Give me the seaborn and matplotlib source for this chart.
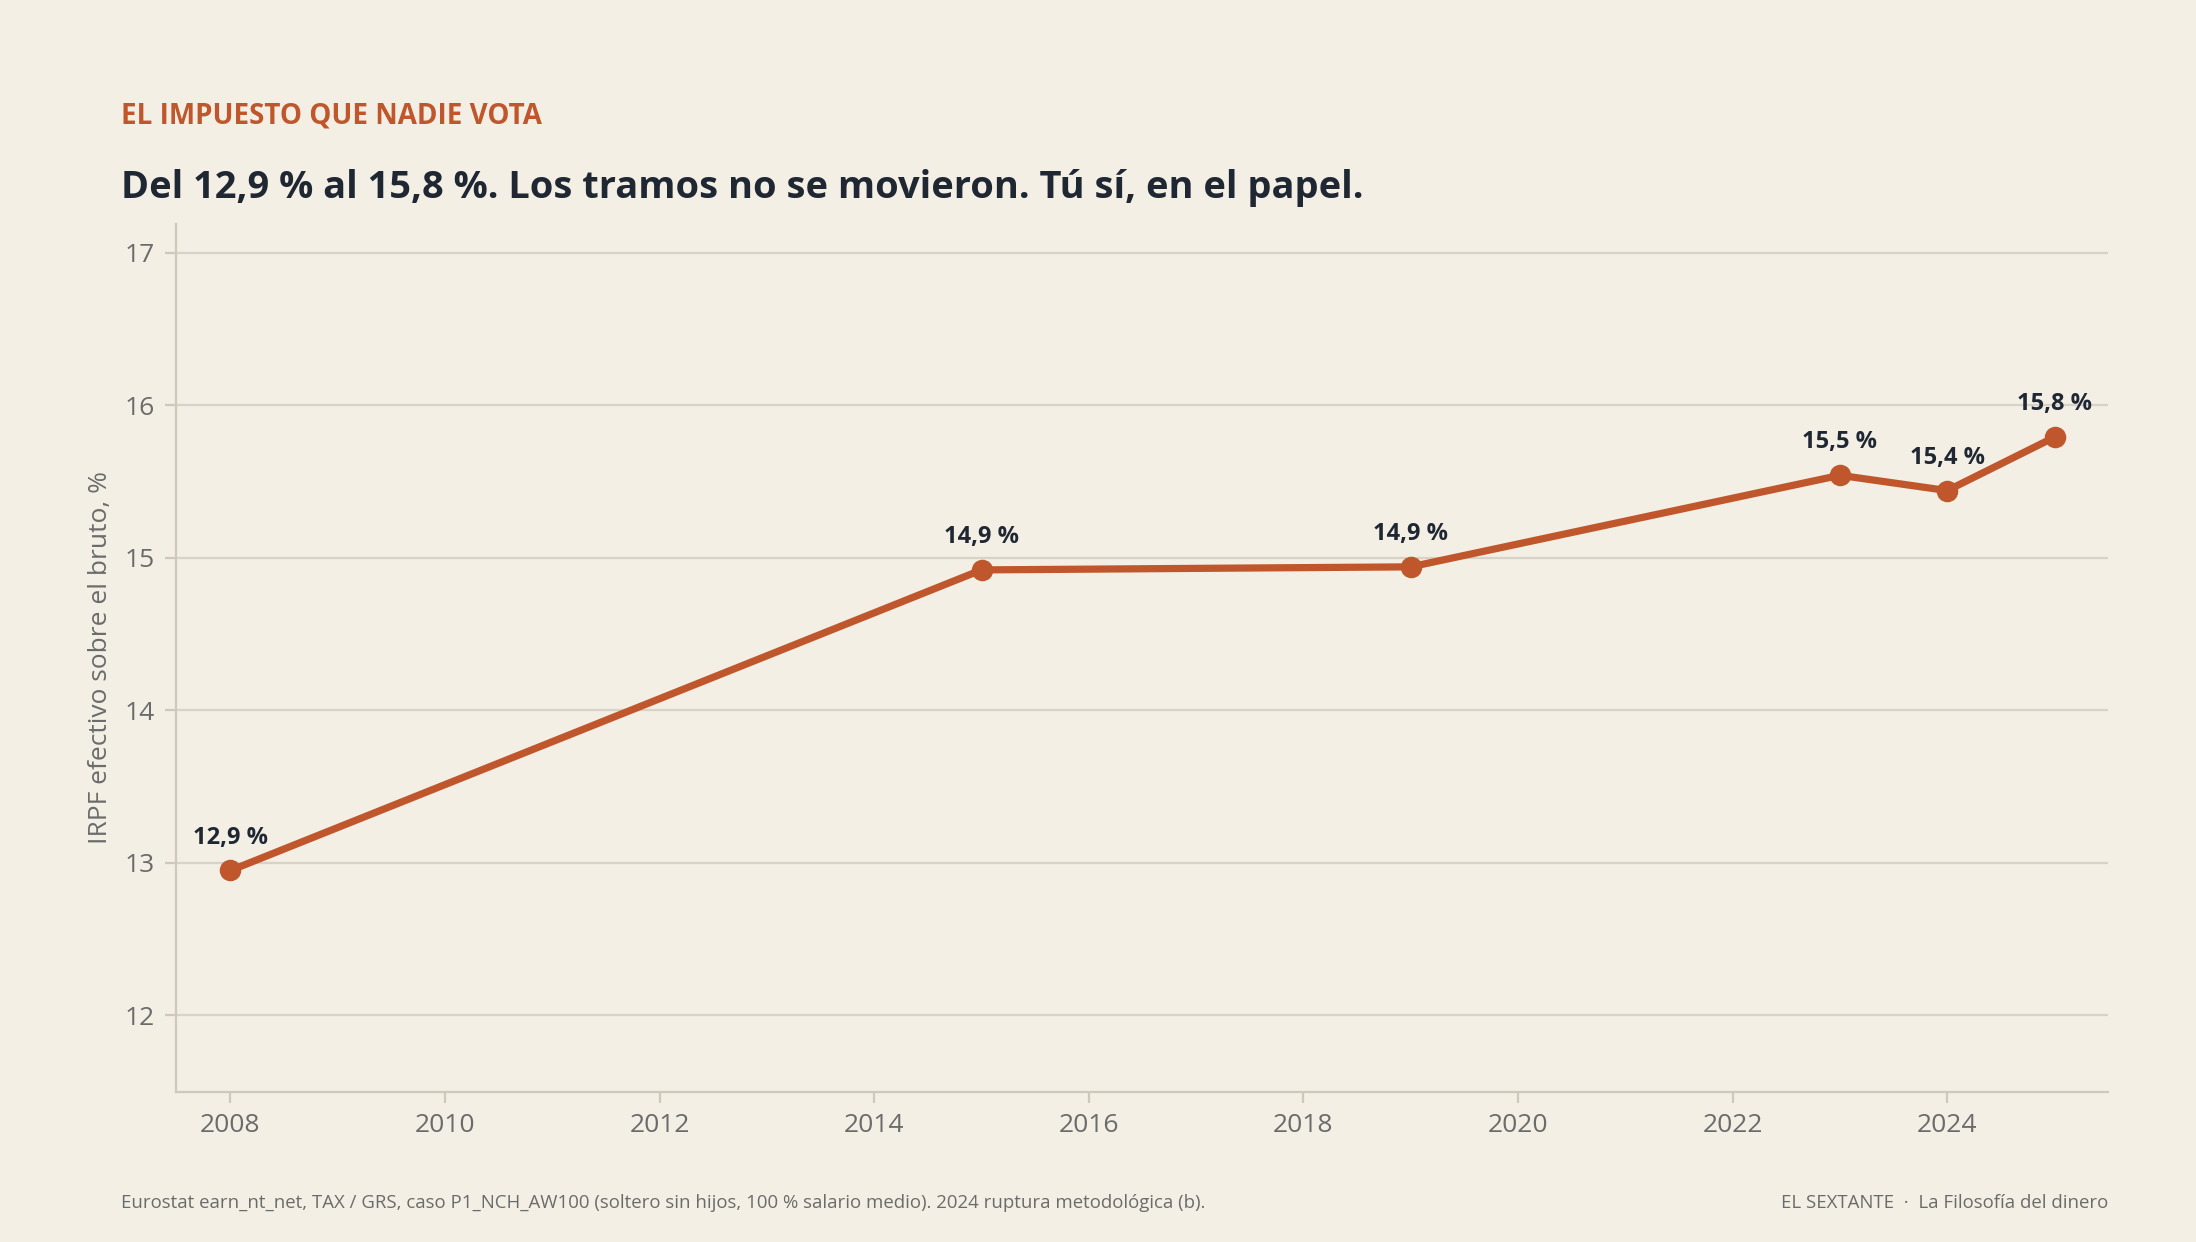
import matplotlib
matplotlib.use("Agg")
import matplotlib.pyplot as plt
import seaborn as sns
import pandas as pd

# ------------------------------------------------------------
# Data
# ------------------------------------------------------------
years = [2008, 2015, 2019, 2023, 2024, 2025]
irpf = [12.95, 14.92, 14.94, 15.54, 15.44, 15.79]
labels = ["12,9 %", "14,9 %", "14,9 %", "15,5 %", "15,4 %", "15,8 %"]
df = pd.DataFrame({"year": years, "irpf": irpf})

bg = "#f3efe5"
orange = "#c0562b"
dark = "#1f2733"
grey = "#6b6b6b"

sns.set_style("white")
plt.rcParams["font.family"] = ["Open Sans", "DejaVu Sans"]

fig = plt.figure(figsize=(10.98, 6.21), dpi=200, facecolor=bg)
ax = fig.add_axes([0.080, 0.121, 0.880, 0.699], facecolor=bg)

sns.lineplot(data=df, x="year", y="irpf", ax=ax, color=orange, linewidth=2.6,
             marker="o", markersize=7, markeredgecolor=orange)

for x, y, t in zip(years, irpf, labels):
    ax.annotate(t, (x, y), xytext=(0, 7.5), textcoords="offset points",
                ha="center", va="bottom", fontsize=8.5, fontweight="bold", color=dark)

ax.set_xlim(2007.49, 2025.5)
ax.set_ylim(11.5, 17.19)
ax.set_xticks(range(2008, 2025, 2))
ax.set_yticks(range(12, 18))
ax.yaxis.grid(True, color="#d8d3c7", linewidth=0.8)
ax.xaxis.grid(False)
ax.set_axisbelow(True)
for s in ["top", "right"]:
    ax.spines[s].set_visible(False)
for s in ["left", "bottom"]:
    ax.spines[s].set_color("#cfc9bc")
    ax.spines[s].set_linewidth(0.8)
ax.tick_params(axis="both", colors="#cfc9bc", labelcolor=grey, labelsize=9.5,
               length=4, width=0.8, left=True, bottom=True)
ax.set_xlabel("")
ax.set_ylabel("IRPF efectivo sobre el bruto, %", color=grey, fontsize=9.5)

fig.text(0.055, 0.907, "EL IMPUESTO QUE NADIE VOTA", color=orange,
         fontsize=10, fontweight="bold", va="center")
fig.text(0.055, 0.849, "Del 12,9 % al 15,8 %. Los tramos no se movieron. Tú sí, en el papel.",
         color=dark, fontsize=13.7, fontweight="bold", va="center")
fig.text(0.055, 0.031, "Eurostat earn_nt_net, TAX / GRS, caso P1_NCH_AW100 (soltero sin hijos, "
         "100 % salario medio). 2024 ruptura metodológica (b).", color=grey, fontsize=6.7, va="center")
fig.text(0.960, 0.031, "EL SEXTANTE  ·  La Filosofía del dinero", color=grey,
         fontsize=6.7, va="center", ha="right")

fig.savefig("out.png", dpi=200, facecolor=bg)
